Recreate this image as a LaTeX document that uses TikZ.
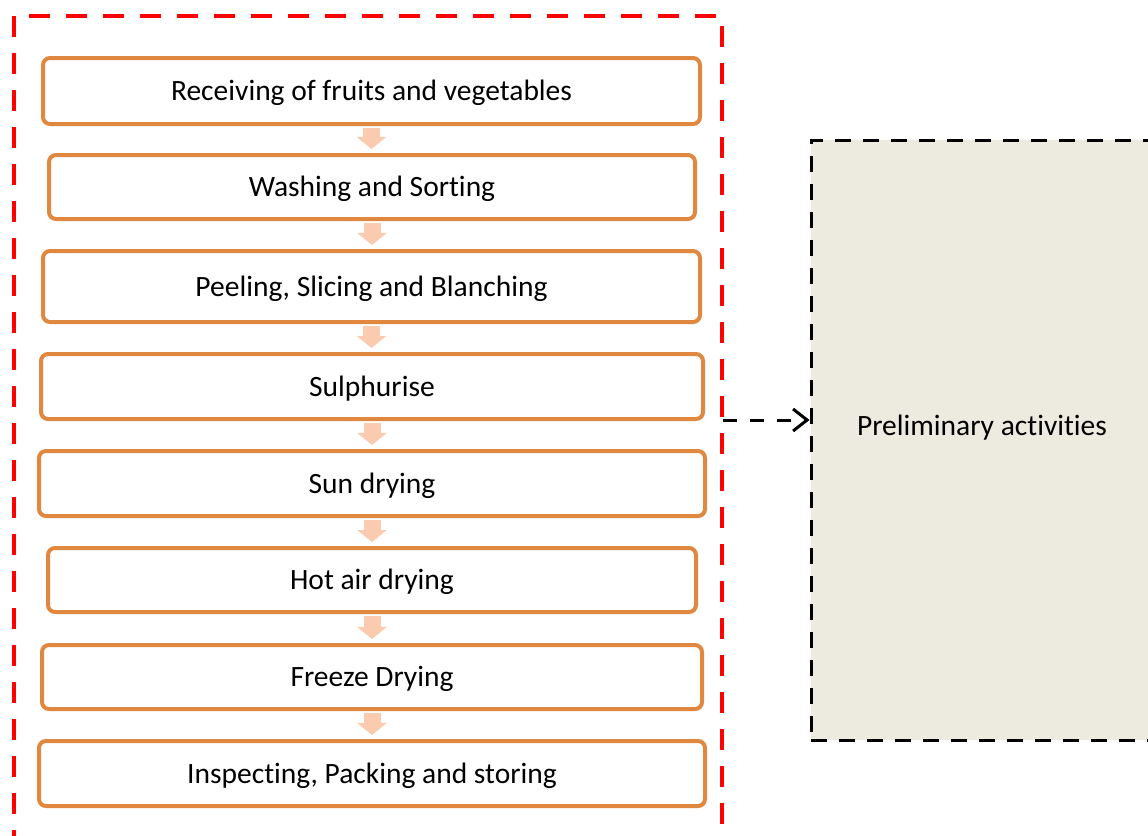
\documentclass[tikz,border=0pt]{standalone}
\usepackage{fontspec}
\setmainfont{Carlito}[Ligatures=NoCommon]
\usetikzlibrary{arrows.meta}
\definecolor{stepedge}{HTML}{E0883F}
\definecolor{flowpeach}{HTML}{FBCBB0}
\definecolor{prelimfill}{HTML}{EDEAE0}
\definecolor{groupred}{HTML}{FF0000}
\tikzset{
  labelfont/.style={font=\fontsize{29.5}{34}\selectfont, text height=24pt, text depth=5pt},
  stepbox/.style={draw=stepedge, line width=4pt, rounded corners=7pt, fill=white,
    inner sep=0pt, labelfont},
  flowarrow/.style={draw=flowpeach, line width=17pt,
    -{Triangle[width=29pt,length=12pt]}, shorten <=1.5pt, shorten >=4pt},
  groupframe/.style={draw=groupred, line width=4.5pt, dash pattern=on 21pt off 16pt},
  prelimbox/.style={draw=black, fill=prelimfill, line width=3pt, dash pattern=on 16pt off 12pt},
  linkarrow/.style={draw=black, line width=3pt, dash pattern=on 14pt off 13pt,
    -{Straight Barb[length=14pt,width=22pt]}},
}
\begin{document}
\begin{tikzpicture}[x=1pt,y=-1pt]
  \useasboundingbox (0,0) rectangle (1148,835);
  \clip (0,0) rectangle (1148,835);

  % dashed frame grouping the process steps
  \draw[groupframe] (14,16) rectangle (722,880);

  % box for the preliminary activities
  \node[prelimbox, minimum width=350pt, minimum height=600pt, inner sep=0pt] (prelim) at (986,440) {};
  \node[labelfont] (prelimtext) at (982,426) {Preliminary activities};

  % process steps
  \node[stepbox, minimum width=657pt, minimum height=66pt] (s1) at (371.5,91)   {Receiving of fruits and vegetables};
  \node[stepbox, minimum width=646pt, minimum height=64pt] (s2) at (372,187)    {Washing and Sorting};
  \node[stepbox, minimum width=657pt, minimum height=71pt] (s3) at (371.5,286.5) {Peeling, Slicing and Blanching};
  \node[stepbox, minimum width=662pt, minimum height=65pt] (s4) at (372,386.5)  {Sulphurise};
  \node[stepbox, minimum width=666pt, minimum height=65pt] (s5) at (372,483.5)  {Sun drying};
  \node[stepbox, minimum width=648pt, minimum height=64pt] (s6) at (372,580)    {Hot air drying};
  \node[stepbox, minimum width=660pt, minimum height=64pt] (s7) at (372,677)    {Freeze Drying};
  \node[stepbox, minimum width=666pt, minimum height=65pt] (s8) at (372,773.5)  {Inspecting, Packing and storing};

  % flow arrows between steps
  \foreach \a/\b in {s1/s2,s2/s3,s3/s4,s4/s5,s5/s6,s6/s7,s7/s8}
    \draw[flowarrow] (\a.south) -- (\a.south |- \b.north);

  % link from the grouped steps to the preliminary activities
  \coordinate (linkstart) at (723,420);
  \draw[linkarrow] (linkstart) -- (prelim.west |- linkstart);
\end{tikzpicture}
\end{document}
